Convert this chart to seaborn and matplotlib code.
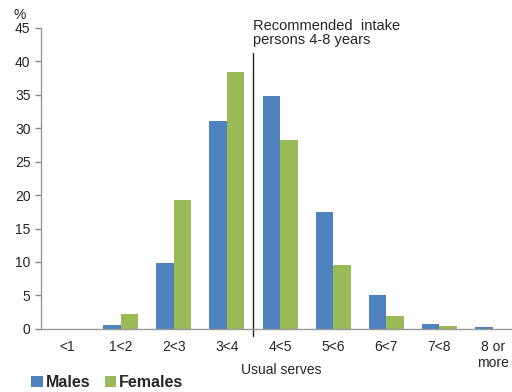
import matplotlib
matplotlib.use("Agg")
import matplotlib.pyplot as plt
import seaborn as sns
import pandas as pd

categories = ["<1", "1<2", "2<3", "3<4", "4<5", "5<6", "6<7", "7<8", "8 or\nmore"]
males = [0.0, 0.6, 9.9, 31.1, 34.8, 17.5, 5.1, 0.8, 0.3]
females = [0.0, 2.2, 19.3, 38.4, 28.2, 9.5, 1.9, 0.4, 0.0]

df = pd.DataFrame({
    "serves": categories * 2,
    "pct": males + females,
    "sex": ["Males"] * len(categories) + ["Females"] * len(categories),
})

sns.set_style("white")
plt.rcParams["font.family"] = ["Liberation Sans", "DejaVu Sans"]
plt.rcParams["font.size"] = 10

fig = plt.figure(figsize=(5.12, 3.92), dpi=100)
# the plot area runs slightly past the right edge, as in the original
ax = fig.add_axes([0.080, 0.161, 0.934, 0.768])

sns.barplot(data=df, x="serves", y="pct", hue="sex", order=categories,
            palette={"Males": "#4F81BD", "Females": "#9BBB59"},
            saturation=1, width=0.66, gap=0, linewidth=0, ax=ax)

ax.set_xlim(-0.5, len(categories) - 0.5)
ax.set_ylim(0, 45)
ax.set_yticks(range(0, 50, 5))
ax.set_xticks(range(len(categories)))
ax.set_xticklabels(categories)
ax.set_xticks([i + 0.5 for i in range(-1, len(categories))], minor=True)
ax.tick_params(axis="x", which="major", length=0, pad=8)
ax.tick_params(axis="x", which="minor", length=5, width=1, color="#888888", direction="out")
ax.tick_params(axis="y", length=4, width=1, color="#888888", direction="out", left=True)

for s in ["top", "right"]:
    ax.spines[s].set_visible(False)
for s in ["left", "bottom"]:
    ax.spines[s].set_color("#999999")
    ax.spines[s].set_linewidth(1)

ax.set_xlabel("Usual serves")
ax.xaxis.set_label_coords(0.503, -0.136)
ax.xaxis.label.set_va("center")
ax.set_ylabel("")
ax.text(-0.058, 1.02, "%", transform=ax.transAxes, ha="left", va="bottom")

# recommended intake marker between 3<4 and 4<5
ax.plot([3.5, 3.5], [-1, 41.3], color="#222222", lw=1, clip_on=False)
ax.text(3.49, 42.2, "Recommended  intake\npersons 4-8 years", ha="left", va="bottom",
        linespacing=1.0, fontsize=10.5)

ax.legend(loc="center left", bbox_to_anchor=(-0.02, -0.178), ncol=2, frameon=False,
          handlelength=0.7, handleheight=0.7, handletextpad=0.2, columnspacing=0.9,
          borderaxespad=0, borderpad=0,
          prop={"weight": "bold", "size": 11.5})

fig.savefig("out.png", dpi=100)
